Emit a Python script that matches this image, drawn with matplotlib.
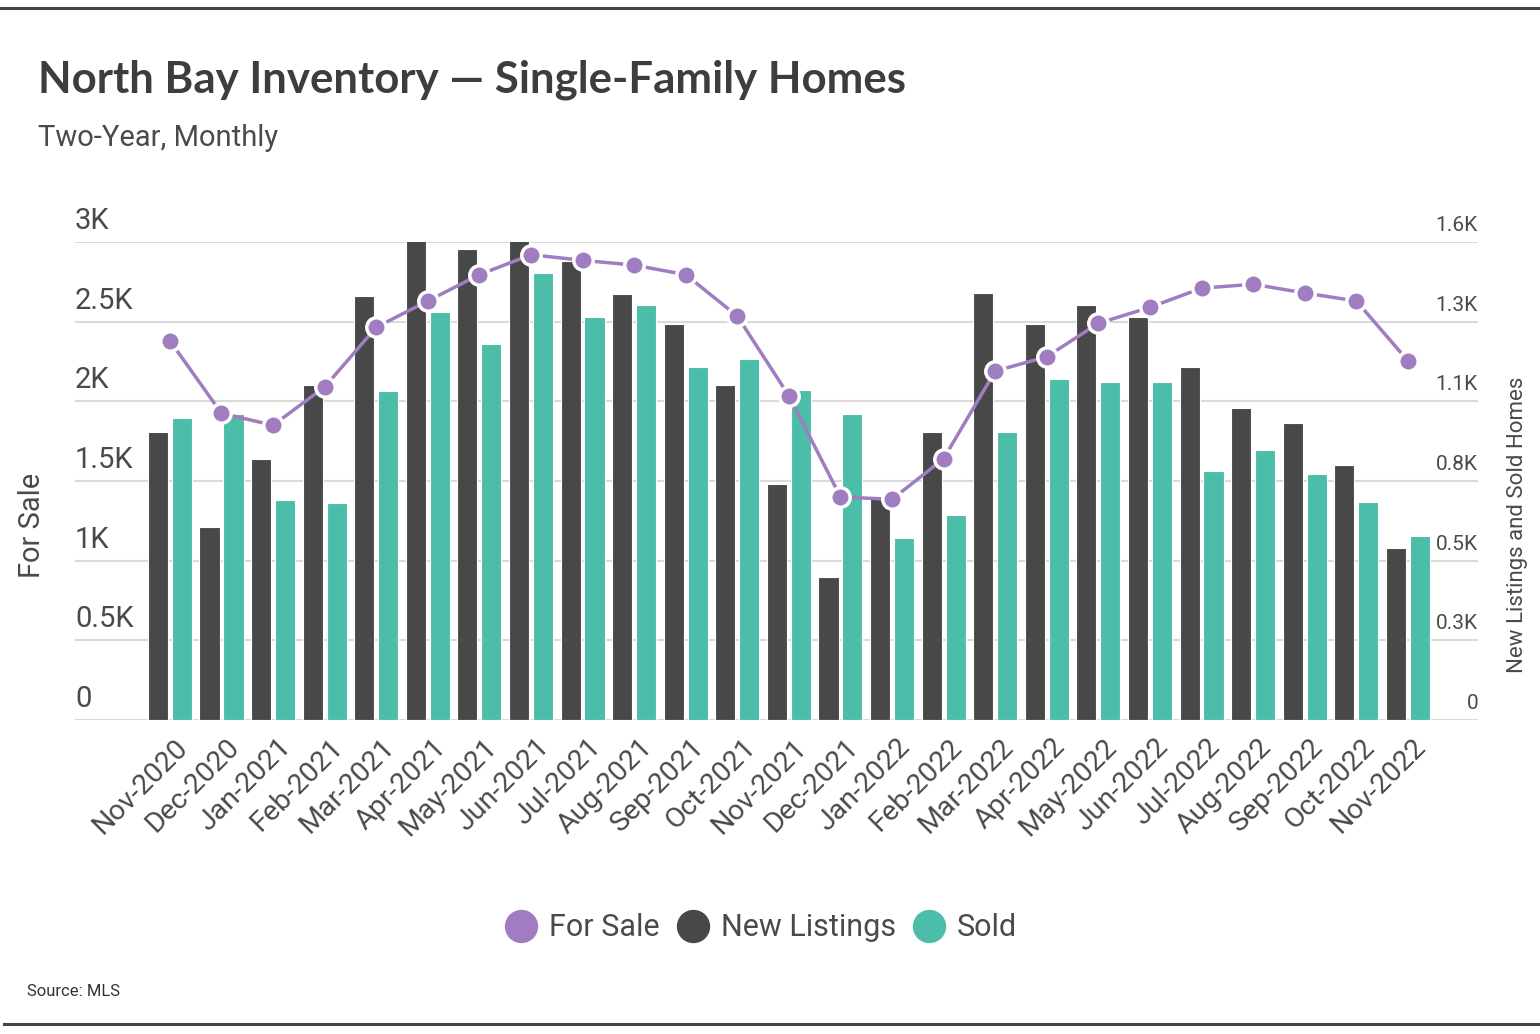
import numpy as np
import matplotlib
matplotlib.use("Agg")
import matplotlib.pyplot as plt
from matplotlib.lines import Line2D
from matplotlib.transforms import ScaledTranslation

months = ["Nov-2020", "Dec-2020", "Jan-2021", "Feb-2021", "Mar-2021", "Apr-2021",
          "May-2021", "Jun-2021", "Jul-2021", "Aug-2021", "Sep-2021", "Oct-2021",
          "Nov-2021", "Dec-2021", "Jan-2022", "Feb-2022", "Mar-2022", "Apr-2022",
          "May-2022", "Jun-2022", "Jul-2022", "Aug-2022", "Sep-2022", "Oct-2022",
          "Nov-2022"]
for_sale = [2380, 1925, 1850, 2090, 2465, 2630, 2795, 2920, 2885, 2855, 2795, 2535,
            2035, 1400, 1385, 1640, 2190, 2280, 2490, 2590, 2710, 2735, 2680, 2630,
            2255]
new_listings = [965, 645, 875, 1120, 1420, 1620, 1575, 1630, 1535, 1425, 1325, 1120,
                790, 480, 750, 965, 1430, 1325, 1390, 1350, 1180, 1045, 995, 855,
                575]
sold = [1010, 1025, 735, 725, 1100, 1365, 1260, 1495, 1350, 1390, 1180, 1210,
        1105, 1025, 610, 685, 965, 1140, 1130, 1130, 835, 905, 825, 730,
        615]
left_ticks = [0, 500, 1000, 1500, 2000, 2500, 3000]
left_labels = ["0", "0.5K", "1K", "1.5K", "2K", "2.5K", "3K"]
right_ticks = [0, 266.67, 533.33, 800, 1066.67, 1333.33, 1600]
right_labels = ["0", "0.3K", "0.5K", "0.8K", "1.1K", "1.3K", "1.6K"]

PURPLE = "#A07DC1"
DARK = "#484848"
TEAL = "#4BBDA9"
GRID = "#DADADA"
TXT = "#4a4a4a"

NARROW = ["Liberation Sans Narrow", "Roboto", "DejaVu Sans"]
plt.rcParams["font.family"] = NARROW

W, H = 1540, 1034
fig = plt.figure(figsize=(W / 100, H / 100), dpi=100)
fig.patch.set_facecolor("white")

def fx(px):
    return px / W

def fy(py):
    return 1 - py / H

ax2 = fig.add_axes([fx(75), fy(720), fx(1478) - fx(75), fy(242) - fy(720)])
ax = ax2.twinx()

x = np.arange(len(months))
bw = 0.39
ax2.bar(x - 0.232, new_listings, width=bw, color=DARK, edgecolor="white", linewidth=0.8, zorder=3)
ax2.bar(x + 0.232, sold, width=bw, color=TEAL, edgecolor="white", linewidth=0.8, zorder=3)
ax2.set_ylim(0, 1600)
ax2.set_xlim(-1.84, 25.36)
for t in right_ticks:
    ax2.axhline(t, color=GRID, linewidth=1.5, zorder=1)

ax.plot(x, for_sale, color=PURPLE, linewidth=2.5, marker="o", markersize=14,
        markerfacecolor=PURPLE, markeredgecolor="white", markeredgewidth=2.5, zorder=5)
ax.set_ylim(0, 3000)

for a in (ax, ax2):
    for s in a.spines.values():
        s.set_visible(False)
    a.set_yticks([])
    a.tick_params(length=0)
ax.set_zorder(ax2.get_zorder() + 1)
ax.patch.set_visible(False)

# x tick labels
ax2.set_xticks(x)
ax2.set_xticklabels(months, rotation=45, ha="right", va="center",
                    rotation_mode="anchor", fontsize=20.5, color=TXT)
off = ScaledTranslation(14 / 100, -18 / 100, fig.dpi_scale_trans)
for lab in ax2.get_xticklabels():
    lab.set_transform(lab.get_transform() + off)

# y tick labels above gridlines
for v, lab in zip(left_ticks, left_labels):
    ax.annotate(lab, xy=(0, v), xycoords=("axes fraction", "data"), xytext=(0, 5),
                textcoords="offset points", ha="left", va="bottom", fontsize=21, color=TXT)
for v, lab in zip(right_ticks, right_labels):
    ax2.annotate(lab, xy=(1, v), xycoords=("axes fraction", "data"), xytext=(0, 5),
                 textcoords="offset points", ha="right", va="bottom", fontsize=15, color=TXT)

fig.text(fx(32), fy(525), "For Sale", rotation=90, ha="center", va="center",
         fontsize=21, color=TXT)
fig.text(fx(1517), fy(525), "New Listings and Sold Homes", rotation=90, ha="center",
         va="center", fontsize=16, color=TXT)

# title
fig.text(fx(38), fy(80), "North Bay Inventory \u2014 Single-Family Homes", ha="left",
         va="center", fontsize=31.5, fontweight="bold", color="#3d3d3d",
         family=["Lato", "DejaVu Sans"])
fig.text(fx(38), fy(138), "Two-Year, Monthly", ha="left", va="center", fontsize=21,
         color=TXT)
fig.text(fx(27), fy(992), "Source: MLS", ha="left", va="center", fontsize=12, color="#333333")

# legend
handles = [Line2D([], [], linestyle="none", marker="o", markersize=23, color=c)
           for c in (PURPLE, DARK, TEAL)]
fig.legend(handles, ["For Sale", "New Listings", "Sold"], loc="center",
           bbox_to_anchor=(fx(760), fy(928)), ncol=3, frameon=False, fontsize=22,
           handletextpad=0.3, columnspacing=0.5, handlelength=1.2, labelcolor=TXT)

# top / bottom rules
fig.add_artist(Line2D([0, 1], [fy(8), fy(8)], color="#444444", linewidth=2.2,
                      transform=fig.transFigure))
fig.add_artist(Line2D([fx(4), 1], [fy(1024), fy(1024)], color="#444444", linewidth=2.2,
                      transform=fig.transFigure))

fig.savefig("out.png", dpi=100)
